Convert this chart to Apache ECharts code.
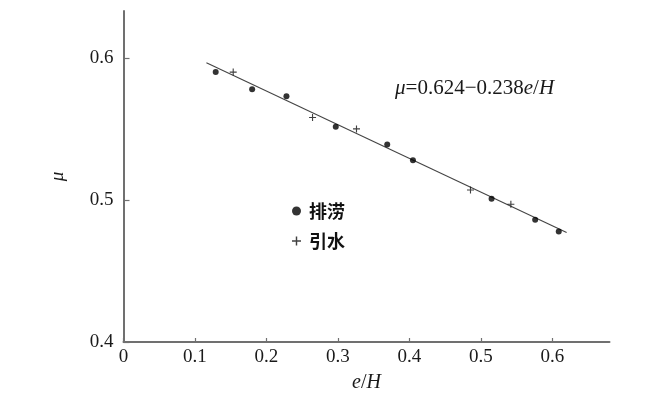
<!DOCTYPE html>
<html>
<head>
<meta charset="utf-8">
<script src="https://cdn.jsdelivr.net/npm/echarts@6/dist/echarts.min.js"></script>
<style>
  html, body { margin: 0; padding: 0; background: #fff; }
  #main { width: 650px; height: 398px; }
</style>
</head>
<body>
<div id="main"></div>
<script>
// 排涝 points (e/H, mu)
var drainX = [0.129, 0.180, 0.228, 0.297, 0.369, 0.405, 0.515, 0.576, 0.609];
var drainY = [0.590, 0.578, 0.573, 0.5515, 0.539, 0.528, 0.5008, 0.486, 0.4777];
// 引水 points
var divertX = [0.1535, 0.2645, 0.326, 0.4855, 0.542];
var divertY = [0.590, 0.558, 0.550, 0.507, 0.497];
// fitted line end points
var fitX = [0.116, 0.620];
var fitY = [0.5965, 0.477];
var seriesNames = ['排涝', '引水'];
var equation = '{i|μ}=0.624−0.238{i|e}/{i|H}';

function pairs(xs, ys) {
    var out = [];
    for (var i = 0; i < xs.length; i++) out.push([xs[i], ys[i]]);
    return out;
}

var plusPath = 'path://M4.2,0H5.8V4.2H10V5.8H5.8V10H4.2V5.8H0V4.2H4.2Z';
var serif = '"Liberation Serif", "Times New Roman", serif';
var axisColor = '#707070';

var myChart = echarts.init(document.getElementById('main'));
var option = {
    animation: false,
    backgroundColor: '#fff',
    grid: { left: 123.5, right: 40.5, top: 11, bottom: 53 },
    legend: {
        orient: 'vertical',
        left: 287,
        top: 197,
        itemWidth: 9,
        itemHeight: 9,
        itemGap: 12,
        data: seriesNames,
        textStyle: {
            fontFamily: '"Noto Sans CJK SC"', fontSize: 18, color: '#111', fontWeight: 'bold',
            padding: [0, 0, 0, 3]
        }
    },
    xAxis: {
        type: 'value',
        min: 0,
        max: 0.68,
        interval: 0.1,
        name: '{i|e}/{i|H}',
        nameLocation: 'middle',
        nameGap: 31,
        nameTextStyle: {
            fontFamily: serif, fontSize: 20, color: '#1a1a1a',
            rich: { i: { fontStyle: 'italic', fontFamily: serif, fontSize: 20, color: '#1a1a1a' } }
        },
        axisLine: { lineStyle: { color: axisColor, width: 2 } },
        axisTick: { inside: true, length: 4, lineStyle: { color: axisColor, width: 1.2 } },
        splitLine: { show: false },
        axisLabel: {
            showMaxLabel: false,
            margin: 6,
            fontFamily: serif, fontSize: 19, color: '#1a1a1a',
            formatter: function (v) { return v === 0 ? '0' : v.toFixed(1); }
        }
    },
    yAxis: {
        type: 'value',
        min: 0.4,
        max: 0.633,
        interval: 0.1,
        name: '{i|μ}',
        nameLocation: 'middle',
        nameGap: 56,
        nameTextStyle: {
            fontFamily: serif, fontSize: 19, color: '#1a1a1a',
            rich: { i: { fontStyle: 'italic', fontFamily: serif, fontSize: 19, color: '#1a1a1a' } }
        },
        axisLine: { show: true, lineStyle: { color: axisColor, width: 2 } },
        axisTick: { show: true, inside: true, length: 6, lineStyle: { color: axisColor, width: 1.2 } },
        splitLine: { show: false },
        axisLabel: {
            showMaxLabel: false,
            margin: 10,
            fontFamily: serif, fontSize: 19, color: '#1a1a1a',
            formatter: function (v) { return v.toFixed(1); }
        }
    },
    graphic: [{
        type: 'text',
        left: 395,
        top: 78,
        style: {
            text: equation,
            fontFamily: serif,
            fontSize: 21,
            fill: '#1a1a1a',
            rich: { i: { fontStyle: 'italic', fontFamily: serif, fontSize: 21 } }
        }
    }],
    series: [
        {
            name: 'fit',
            type: 'line',
            data: pairs(fitX, fitY),
            symbol: 'none',
            lineStyle: { color: '#444', width: 1.1 },
            z: 1
        },
        {
            name: seriesNames[0],
            type: 'scatter',
            data: pairs(drainX, drainY),
            symbol: 'circle',
            symbolSize: 6,
            itemStyle: { color: '#000' },
            z: 3
        },
        {
            name: seriesNames[1],
            type: 'scatter',
            data: pairs(divertX, divertY),
            symbol: plusPath,
            symbolSize: 7,
            itemStyle: { color: '#111' },
            z: 3
        }
    ]
};
if (option)
    myChart.setOption(option);
</script>
</body>
</html>
